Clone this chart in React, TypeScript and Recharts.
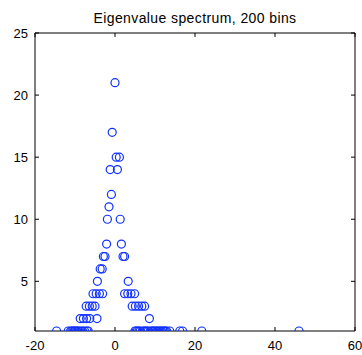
import React from 'react';
import { ScatterChart, Scatter, XAxis, YAxis, ReferenceArea } from 'recharts';

// Histogram of eigenvalues (200 bins): bin centres and counts (non-empty bins)
const binCenters = [
  -14.6, -11.7, -11.1, -10.8, -10.5, -10.2, -9.9, -9.6, -9.3, -9.0,
  -8.7, -8.4, -8.1, -7.9, -7.6, -7.2, -7.1, -7.0, -6.7, -6.4,
  -6.3, -5.7, -5.5, -5.0, -4.7, -4.5, -4.4, -3.9, -3.7, -3.2,
  -3.1, -2.9, -2.5, -2.1, -1.9, -1.5, -1.2, -0.9, -0.7, 0.0,
  0.3, 0.6, 1.1, 1.3, 1.6, 2.0, 2.4, 2.4, 3.2, 3.3,
  4.0, 4.3, 4.9, 5.0, 5.1, 5.3, 5.6, 5.9, 6.0, 6.3,
  6.7, 7.0, 7.3, 7.4, 7.6, 8.0, 8.3, 8.6, 9.0, 9.3,
  9.6, 10.0, 10.3, 10.6, 11.0, 11.3, 11.6, 12.0, 12.3, 12.6,
  12.9, 13.7, 16.2, 16.9, 21.7, 46.0,
];
const binCounts = [
  1, 1, 1, 1, 1, 1, 1, 1, 1, 1,
  2, 1, 1, 2, 1, 3, 2, 1, 1, 3,
  2, 3, 4, 3, 4, 2, 5, 4, 6, 6,
  4, 7, 7, 8, 10, 11, 14, 12, 17, 21,
  15, 14, 15, 10, 8, 7, 7, 4, 4, 5,
  4, 3, 4, 1, 3, 1, 1, 3, 1, 1,
  3, 1, 1, 3, 1, 1, 1, 2, 1, 1,
  1, 1, 1, 1, 1, 1, 1, 1, 1, 1,
  1, 1, 1, 1, 1, 1,
];
const xTicks = [-20, 0, 20, 40, 60];
const yTicks = [5, 10, 15, 20, 25];
const xDomain = [-20, 60];
const yDomain = [1, 25];
const title = 'Eigenvalue spectrum, 200 bins';

const data = binCenters.map((x, i) => ({ x, y: binCounts[i] }));

const W = 362;
const H = 355;
const PT = 33;
const PB = 331;
const PL = 35;
const PR = 355;
const FONT = '"Liberation Sans", Arial, sans-serif';

const XTick = (props: any) => {
  const { x, payload } = props;
  return (
    <g>
      <line x1={x} y1={PB} x2={x} y2={PB - 4} stroke="#000" />
      <line x1={x} y1={PT} x2={x} y2={PT + 4} stroke="#000" />
      <text x={x} y={PB + 10} dy="0.71em" textAnchor="middle" fontSize={13} fontFamily={FONT} fill="#000">
        {payload.value}
      </text>
    </g>
  );
};

const YTick = (props: any) => {
  const { y, payload } = props;
  return (
    <g>
      <line x1={PL} y1={y} x2={PL + 4} y2={y} stroke="#000" />
      <line x1={PR} y1={y} x2={PR - 4} y2={y} stroke="#000" />
      <text x={PL - 7} y={y} dy="0.36em" textAnchor="end" fontSize={13} fontFamily={FONT} fill="#000">
        {payload.value}
      </text>
    </g>
  );
};

const Marker = (props: any) => {
  const { cx, cy } = props;
  if (cx == null || cy == null) return null;
  return <circle cx={cx} cy={cy} r={4} fill="none" stroke="#1030ff" strokeWidth={1.2} />;
};

export default function App() {
  return (
    <div style={{ position: 'absolute', left: 0, top: 0, width: W, height: H, background: '#fff' }}>
      <div
        style={{
          position: 'absolute',
          left: 0,
          width: 390,
          top: 10,
          lineHeight: '16px',
          fontSize: 14,
          letterSpacing: '0.4px',
          fontFamily: FONT,
          textAlign: 'center',
          color: '#000',
        }}
      >
        {title}
      </div>
      <ScatterChart width={W} height={H} margin={{ top: PT, right: W - PR, bottom: 0, left: 0 }}>
        <XAxis
          type="number"
          dataKey="x"
          domain={xDomain}
          ticks={xTicks}
          interval={0}
          allowDataOverflow
          axisLine={false}
          tickLine={false}
          tickSize={0}
          tickMargin={0}
          tick={<XTick />}
          height={H - PB}
        />
        <YAxis
          type="number"
          dataKey="y"
          domain={yDomain}
          ticks={yTicks}
          interval={0}
          allowDataOverflow
          axisLine={false}
          tickLine={false}
          tickSize={0}
          tickMargin={0}
          tick={<YTick />}
          width={PL}
        />
        <ReferenceArea
          x1={xDomain[0]}
          x2={xDomain[1]}
          y1={yDomain[0]}
          y2={yDomain[1]}
          fill="none"
          fillOpacity={0}
          stroke="#000"
          strokeWidth={1}
          ifOverflow="visible"
        />
        <Scatter data={data} shape={<Marker />} isAnimationActive={false} />
      </ScatterChart>
    </div>
  );
}
